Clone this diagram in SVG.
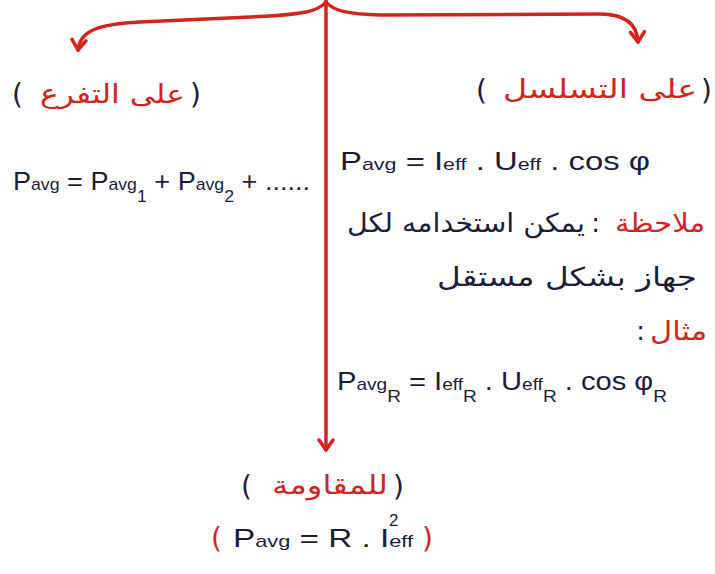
<svg xmlns="http://www.w3.org/2000/svg" width="715" height="574" viewBox="0 0 715 574">
<defs>
<style>
.red{fill:#d3231c}
.dk{fill:#1c1d3d}
.ar{font-family:"DejaVu Sans","Noto Sans",sans-serif;font-size:26px}
.fm{font-family:"Liberation Sans","DejaVu Sans",sans-serif;font-size:26px;fill:#1c1d3d}
.sub{font-size:17px}
.par{font-family:"DejaVu Sans",sans-serif;font-size:28px;direction:ltr;unicode-bidi:bidi-override}
.conn{fill:none;stroke:#d3231c;stroke-width:3.5;stroke-linecap:round}
</style>
<marker id="ah" viewBox="-12 -10 16 20" markerWidth="16" markerHeight="20" refX="0" refY="0" orient="auto" markerUnits="userSpaceOnUse">
<path d="M-10,-7 L0,0 L-10,7" fill="none" stroke="#d3231c" stroke-width="3.5" stroke-linecap="round" stroke-linejoin="round"/>
</marker>
</defs>
<rect width="715" height="574" fill="#ffffff"/>
<g id="connectors">
<path class="conn" d="M326,2 C318,12 300,14 270,16 L140,22 C100,24 80,30 78,50" marker-end="url(#ah)"/>
<path class="conn" d="M326,2 C334,12 352,14 380,15 L600,14 C625,14 637,24 638,42" marker-end="url(#ah)"/>
<path class="conn" d="M326,0 L326,450" marker-end="url(#ah)"/>
</g>
<g id="node-parallel">
<text class="par dk" x="12" y="104">(</text>
<text class="ar red" x="185" y="103" text-anchor="end" textLength="145" lengthAdjust="spacingAndGlyphs">على التفرع</text>
<text class="par dk" x="190" y="104">)</text>
<text class="fm" x="13" y="190" textLength="297" lengthAdjust="spacingAndGlyphs">P<tspan class="sub">avg</tspan> = P<tspan class="sub">avg</tspan><tspan class="sub" dy="12">1</tspan><tspan dy="-12"> + P</tspan><tspan class="sub">avg</tspan><tspan class="sub" dy="12">2</tspan><tspan dy="-12"> + ......</tspan></text>
</g>
<g id="node-series">
<text class="par dk" x="476" y="100">(</text>
<text class="ar red" x="697" y="98" text-anchor="end" textLength="194" lengthAdjust="spacingAndGlyphs">على التسلسل</text>
<text class="par dk" x="701" y="100">)</text>
<text class="fm" x="340" y="170" textLength="310" lengthAdjust="spacingAndGlyphs">P<tspan class="sub">avg</tspan> = I<tspan class="sub">eff</tspan> . U<tspan class="sub">eff</tspan> . cos φ</text>
<text class="ar red" x="705" y="232" text-anchor="end" textLength="90" lengthAdjust="spacingAndGlyphs">ملاحظة</text>
<text class="ar dk" x="600" y="232" text-anchor="end">:</text>
<text class="ar dk" x="585" y="232" text-anchor="end" textLength="238" lengthAdjust="spacingAndGlyphs">يمكن استخدامه لكل</text>
<text class="ar dk" x="697" y="286" text-anchor="end" textLength="260" lengthAdjust="spacingAndGlyphs">جهاز بشكل مستقل</text>
<text class="ar red" x="707" y="340" text-anchor="end" textLength="57" lengthAdjust="spacingAndGlyphs">مثال</text>
<text class="ar dk" x="645" y="340" text-anchor="end">:</text>
<text class="fm" x="337" y="390" textLength="330" lengthAdjust="spacingAndGlyphs">P<tspan class="sub">avg</tspan><tspan class="sub" dy="12">R</tspan><tspan dy="-12"> = I</tspan><tspan class="sub">eff</tspan><tspan class="sub" dy="12">R</tspan><tspan dy="-12"> . U</tspan><tspan class="sub">eff</tspan><tspan class="sub" dy="12">R</tspan><tspan dy="-12"> . cos φ</tspan><tspan class="sub" dy="12">R</tspan></text>
</g>
<g id="node-resistor">
<text class="par dk" x="241" y="496">(</text>
<text class="ar red" x="388" y="494" text-anchor="end" textLength="116" lengthAdjust="spacingAndGlyphs">للمقاومة</text>
<text class="par dk" x="393" y="496">)</text>
<text class="par red" x="211" y="548" font-size="32">(</text>
<text class="fm" x="233" y="547" textLength="180" lengthAdjust="spacingAndGlyphs">P<tspan class="sub">avg</tspan> = R . I<tspan class="sub">eff</tspan></text>
<text class="fm sub" x="389" y="526">2</text>
<text class="par red" x="422" y="548" font-size="32">)</text>
</g>
</svg>
